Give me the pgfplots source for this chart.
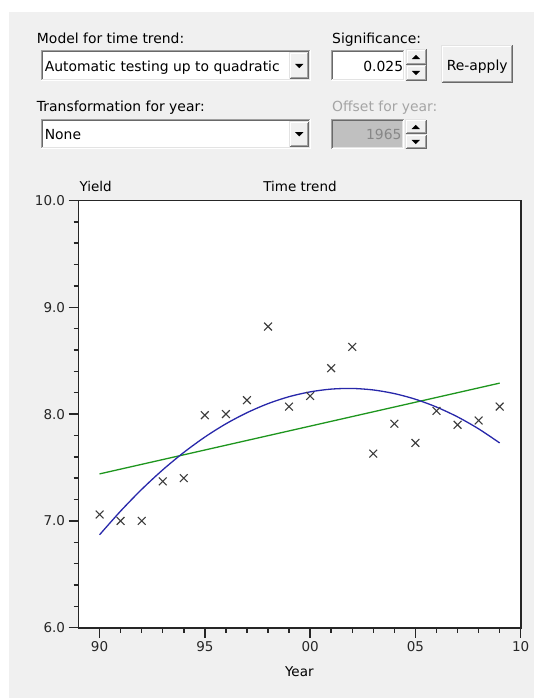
\documentclass[border=0pt]{standalone}
\usepackage{pgfplots}
\pgfplotsset{compat=1.18}
\usepackage{fontspec}
\setmainfont{DejaVu Sans}
\definecolor{dlgbg}{RGB}{240,240,240}
\definecolor{edgeA}{RGB}{160,160,160}
\definecolor{edgeB}{RGB}{105,105,105}
\definecolor{edgeC}{RGB}{227,227,227}
\definecolor{distext}{RGB}{165,165,165}
\definecolor{disfill}{RGB}{192,192,192}
\definecolor{disnum}{RGB}{135,135,135}
\definecolor{quadblue}{RGB}{40,40,170}
\definecolor{lingreen}{RGB}{30,150,30}
\definecolor{markgray}{RGB}{60,60,60}
\newcommand{\dlgfont}{\fontsize{13.9bp}{16bp}\selectfont}
\newcommand{\chfont}{\fontsize{13.5bp}{16bp}\selectfont}
\newcommand{\sunken}[5]{%
  \fill[#5] (#1,#2) rectangle (#3,#4);
  \draw[line width=1bp, edgeA] ({#1+0.5},{#4-0.5}) -- ({#1+0.5},{#2+0.5}) -- ({#3-0.5},{#2+0.5});
  \draw[line width=1bp, edgeB] ({#1+1.5},{#4-1.5}) -- ({#1+1.5},{#2+1.5}) -- ({#3-1.5},{#2+1.5});
  \draw[line width=1bp, white] ({#1+0.5},{#4-0.5}) -- ({#3-0.5},{#4-0.5}) -- ({#3-0.5},{#2+0.5});
  \draw[line width=1bp, edgeC] ({#1+1.5},{#4-1.5}) -- ({#3-1.5},{#4-1.5}) -- ({#3-1.5},{#2+1.5});
}
\newcommand{\raised}[4]{%
  \fill[dlgbg] (#1,#2) rectangle (#3,#4);
  \draw[line width=1bp, edgeC] ({#1+0.5},{#4-0.5}) -- ({#1+0.5},{#2+0.5}) -- ({#3-0.5},{#2+0.5});
  \draw[line width=1bp, white] ({#1+1.5},{#4-1.5}) -- ({#1+1.5},{#2+1.5}) -- ({#3-1.5},{#2+1.5});
  \draw[line width=1bp, edgeB] ({#1+0.5},{#4-0.5}) -- ({#3-0.5},{#4-0.5}) -- ({#3-0.5},{#2+0.5});
  \draw[line width=1bp, edgeA] ({#1+1.5},{#4-1.5}) -- ({#3-1.5},{#4-1.5}) -- ({#3-1.5},{#2+1.5});
}
\newcommand{\tridown}[3]{\fill[black] ({#1-#3},{#2-#3/2}) -- ({#1+#3},{#2-#3/2}) -- (#1,{#2+#3/2}) -- cycle;}
\newcommand{\triup}[3]{\fill[black] ({#1-#3},{#2+#3/2}) -- ({#1+#3},{#2+#3/2}) -- (#1,{#2-#3/2}) -- cycle;}
\begin{document}
\begin{tikzpicture}[x=1bp,y=1bp]
\useasboundingbox (0,0) rectangle (534,698);
\fill[white] (0,0) rectangle (534,698);
\fill[dlgbg] (9,0) rectangle (534,686);
\begin{scope}[shift={(0,698)}, y=-1bp]
  % labels
  \node[anchor=base west, inner sep=0pt, font=\dlgfont] at (36.8,43.3) {Model for time trend:};
  \node[anchor=base west, inner sep=0pt, font=\dlgfont] at (332,43.3) {Significance:};
  \node[anchor=base west, inner sep=0pt, font=\dlgfont] at (36.8,111.5) {Transformation for year:};
  \node[anchor=base west, inner sep=0pt, font=\dlgfont, text=distext] at (332,111.5) {Offset for year:};
  % combo 1
  \sunken{40.9}{50}{310.7}{81}{white}
  \node[anchor=base west, inner sep=0pt, font=\dlgfont] at (44.6,71.5) {Automatic testing up to quadratic};
  \raised{289.3}{52}{309}{79}
  \tridown{299.2}{66}{4.2}
  % spin 1
  \sunken{331}{50}{404.6}{81}{white}
  \node[anchor=base east, inner sep=0pt, font=\dlgfont] at (403.3,71.5) {0.025};
  \raised{405.5}{49}{426.5}{65}
  \raised{405.5}{65}{426.5}{81}
  \triup{416}{57}{4.2}
  \tridown{416}{73}{4.2}
  % re-apply
  \raised{441}{45}{513.3}{82.7}
  \node[anchor=base, inner sep=0pt, font=\dlgfont] at (477.2,70.7) {Re-apply};
  % combo 2
  \sunken{40.9}{119.3}{310.7}{149.3}{white}
  \node[anchor=base west, inner sep=0pt, font=\dlgfont] at (44.6,139.5) {None};
  \raised{289.3}{121.3}{309}{147.3}
  \tridown{299.2}{134.3}{4.2}
  % spin 2 (disabled)
  \sunken{331}{119.3}{404}{149.3}{disfill}
  \node[anchor=base east, inner sep=0pt, font=\dlgfont, text=disnum] at (401.7,139.2) {1965};
  \raised{405}{119.3}{426.5}{134.3}
  \raised{405}{134.3}{426.5}{149.3}
  \triup{415.7}{127}{4.2}
  \tridown{415.7}{142}{4.2}
  % chart titles
  \node[anchor=base west, inner sep=0pt, font=\chfont] at (79.3,191.7) {Yield};
  \node[anchor=base, inner sep=0pt, font=\chfont] at (300,191.7) {Time trend};
  \node[anchor=base, inner sep=0pt, font=\chfont] at (299.3,677) {Year};
\end{scope}
\begin{axis}[
  at={(78.5bp,70.3bp)}, anchor=south west,
  scale only axis, width=442.2bp, height=427.2bp,
  xmin=1989, xmax=2010, ymin=6, ymax=10,
  xtick={1990,1995,2000,2005,2010},
  xticklabels={90,95,00,05,10},
  ytick={6,7,8,9,10},
  yticklabel style={/pgf/number format/.cd, fixed, fixed zerofill, precision=1},
  minor x tick num=4, minor y tick num=4,
  tick align=outside, tick pos=left,
  major tick length=10bp, minor tick length=5bp,
  /pgf/number format/assume math mode=true,
  tick label style={font=\chfont, text=black!85},
  axis background/.style={fill=white},
  axis line style={line width=1.9bp, black!85},
  tick style={line width=1.5bp, black!85},
  clip=true,
]
\addplot[lingreen, line width=1.3bp] coordinates {(1990,7.44) (2009,8.29)};
\addplot[quadblue, line width=1.3bp, smooth] coordinates {
(1990,6.870) (1991,7.092) (1992,7.295) (1993,7.478) (1994,7.641)
(1995,7.785) (1996,7.909) (1997,8.013) (1998,8.098) (1999,8.163)
(2000,8.208) (2001,8.234) (2002,8.240) (2003,8.226) (2004,8.192)
(2005,8.139) (2006,8.066) (2007,7.974) (2008,7.862) (2009,7.730)};
\addplot[only marks, mark=x, mark size=5.5bp, markgray, mark options={line width=1.1bp}] coordinates {
(1990,7.06) (1991,7.00) (1992,7.00) (1993,7.37) (1994,7.40)
(1995,7.99) (1996,8.00) (1997,8.13) (1998,8.82) (1999,8.07)
(2000,8.17) (2001,8.43) (2002,8.63) (2003,7.63) (2004,7.91)
(2005,7.73) (2006,8.03) (2007,7.90) (2008,7.94) (2009,8.07)};
\end{axis}
\end{tikzpicture}
\end{document}
